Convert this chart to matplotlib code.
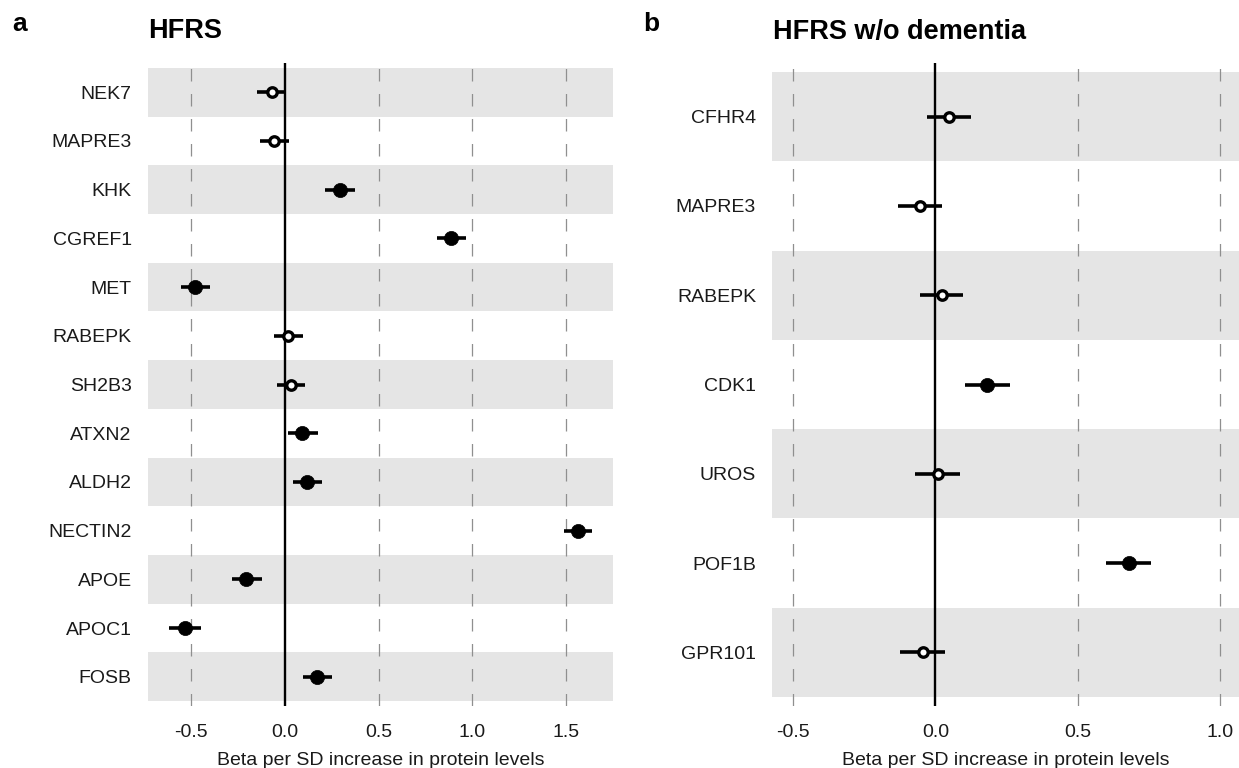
import matplotlib
matplotlib.use("Agg")
import matplotlib.pyplot as plt
import numpy as np

plt.rcParams['font.family'] = ['Liberation Sans', 'DejaVu Sans']

# Panel a: HFRS
genes_a = ["NEK7", "MAPRE3", "KHK", "CGREF1", "MET", "RABEPK", "SH2B3",
           "ATXN2", "ALDH2", "NECTIN2", "APOE", "APOC1", "FOSB"]
beta_a = [-0.07, -0.059, 0.293, 0.888, -0.477, 0.019, 0.034,
          0.093, 0.12, 1.565, -0.205, -0.534, 0.174]
lo_a = [-0.148, -0.133, 0.213, 0.81, -0.553, -0.057, -0.044,
        0.015, 0.042, 1.489, -0.283, -0.616, 0.096]
hi_a = [0.006, 0.023, 0.375, 0.966, -0.398, 0.097, 0.11,
        0.175, 0.2, 1.64, -0.124, -0.449, 0.251]
sig_a = [False, False, True, True, True, False, False,
         True, True, True, True, True, True]

# Panel b: HFRS w/o dementia
genes_b = ["CFHR4", "MAPRE3", "RABEPK", "CDK1", "UROS", "POF1B", "GPR101"]
beta_b = [0.047, -0.053, 0.024, 0.182, 0.008, 0.68, -0.044]
lo_b = [-0.03, -0.131, -0.053, 0.105, -0.07, 0.6, -0.123]
hi_b = [0.125, 0.024, 0.097, 0.261, 0.085, 0.758, 0.035]
sig_b = [False, False, False, True, False, True, False]

ticks_a = [-0.5, 0.0, 0.5, 1.0, 1.5]
ticks_b = [-0.5, 0.0, 0.5, 1.0]
xlabel = "Beta per SD increase in protein levels"

W, H = 1239, 768
fig = plt.figure(figsize=(W / 100, H / 100), dpi=100)


def px_axes(x0, x1, y0, y1):
    return fig.add_axes([x0 / W, 1 - y1 / H, (x1 - x0) / W, (y1 - y0) / H])


def draw(ax, genes, beta, lo, hi, sig, ticks, xlim):
    n = len(genes)
    ys = np.arange(n, 0, -1)
    ax.set_xlim(*xlim)
    ax.set_ylim(0.4, n + 0.6)
    for i, y in enumerate(ys):
        if i % 2 == 0:
            ax.axhspan(y - 0.5, y + 0.5, color="#e5e5e5", lw=0, zorder=0)
    for t in ticks:
        if t != 0:
            ax.axvline(t, color="#8f8f8f", lw=0.9, ls=(0, (10, 10)), zorder=1)
    ax.axvline(0, color="black", lw=1.7, zorder=2)
    ax.hlines(ys, lo, hi, color="black", lw=2.6, zorder=3)
    for y, b, s in zip(ys, beta, sig):
        if s:
            ax.plot(b, y, "o", ms=10.2, mfc="black", mec="black", mew=0.5, zorder=4)
        else:
            ax.plot(b, y, "o", ms=6.8, mfc="white", mec="black", mew=2.4, zorder=4)
    ax.set_yticks(ys)
    ax.set_yticklabels(genes)
    ax.set_xticks(ticks)
    ax.set_xticklabels([f"{t:.1f}" for t in ticks])
    ax.tick_params(axis="both", length=0, labelsize=14, colors="#1a1a1a")
    ax.tick_params(axis="y", pad=11.5)
    ax.tick_params(axis="x", pad=13)
    ax.set_xlabel(xlabel, fontsize=14, color="#1a1a1a", labelpad=8)
    for sp in ax.spines.values():
        sp.set_visible(False)
    ax.set_facecolor("none")


ax1 = px_axes(147.7, 613, 63, 706)
draw(ax1, genes_a, beta_a, lo_a, hi_a, sig_a, ticks_a, (-0.731, 1.75))

ax2 = px_axes(772, 1239, 63, 706)
draw(ax2, genes_b, beta_b, lo_b, hi_b, sig_b, ticks_b, (-0.5737, 1.0667))

fig.text(12 / W, 1 - 31 / H, "a", fontsize=19, fontweight="bold", va="baseline", ha="left")
fig.text(643 / W, 1 - 31 / H, "b", fontsize=19, fontweight="bold", va="baseline", ha="left")
fig.text(148 / W, 1 - 38.5 / H, "HFRS", fontsize=19.5, fontweight="bold", va="baseline", ha="left")
fig.text(773 / W, 1 - 38.5 / H, "HFRS w/o dementia", fontsize=19.5, fontweight="bold",
         va="baseline", ha="left")

fig.savefig("out.png", dpi=100)
